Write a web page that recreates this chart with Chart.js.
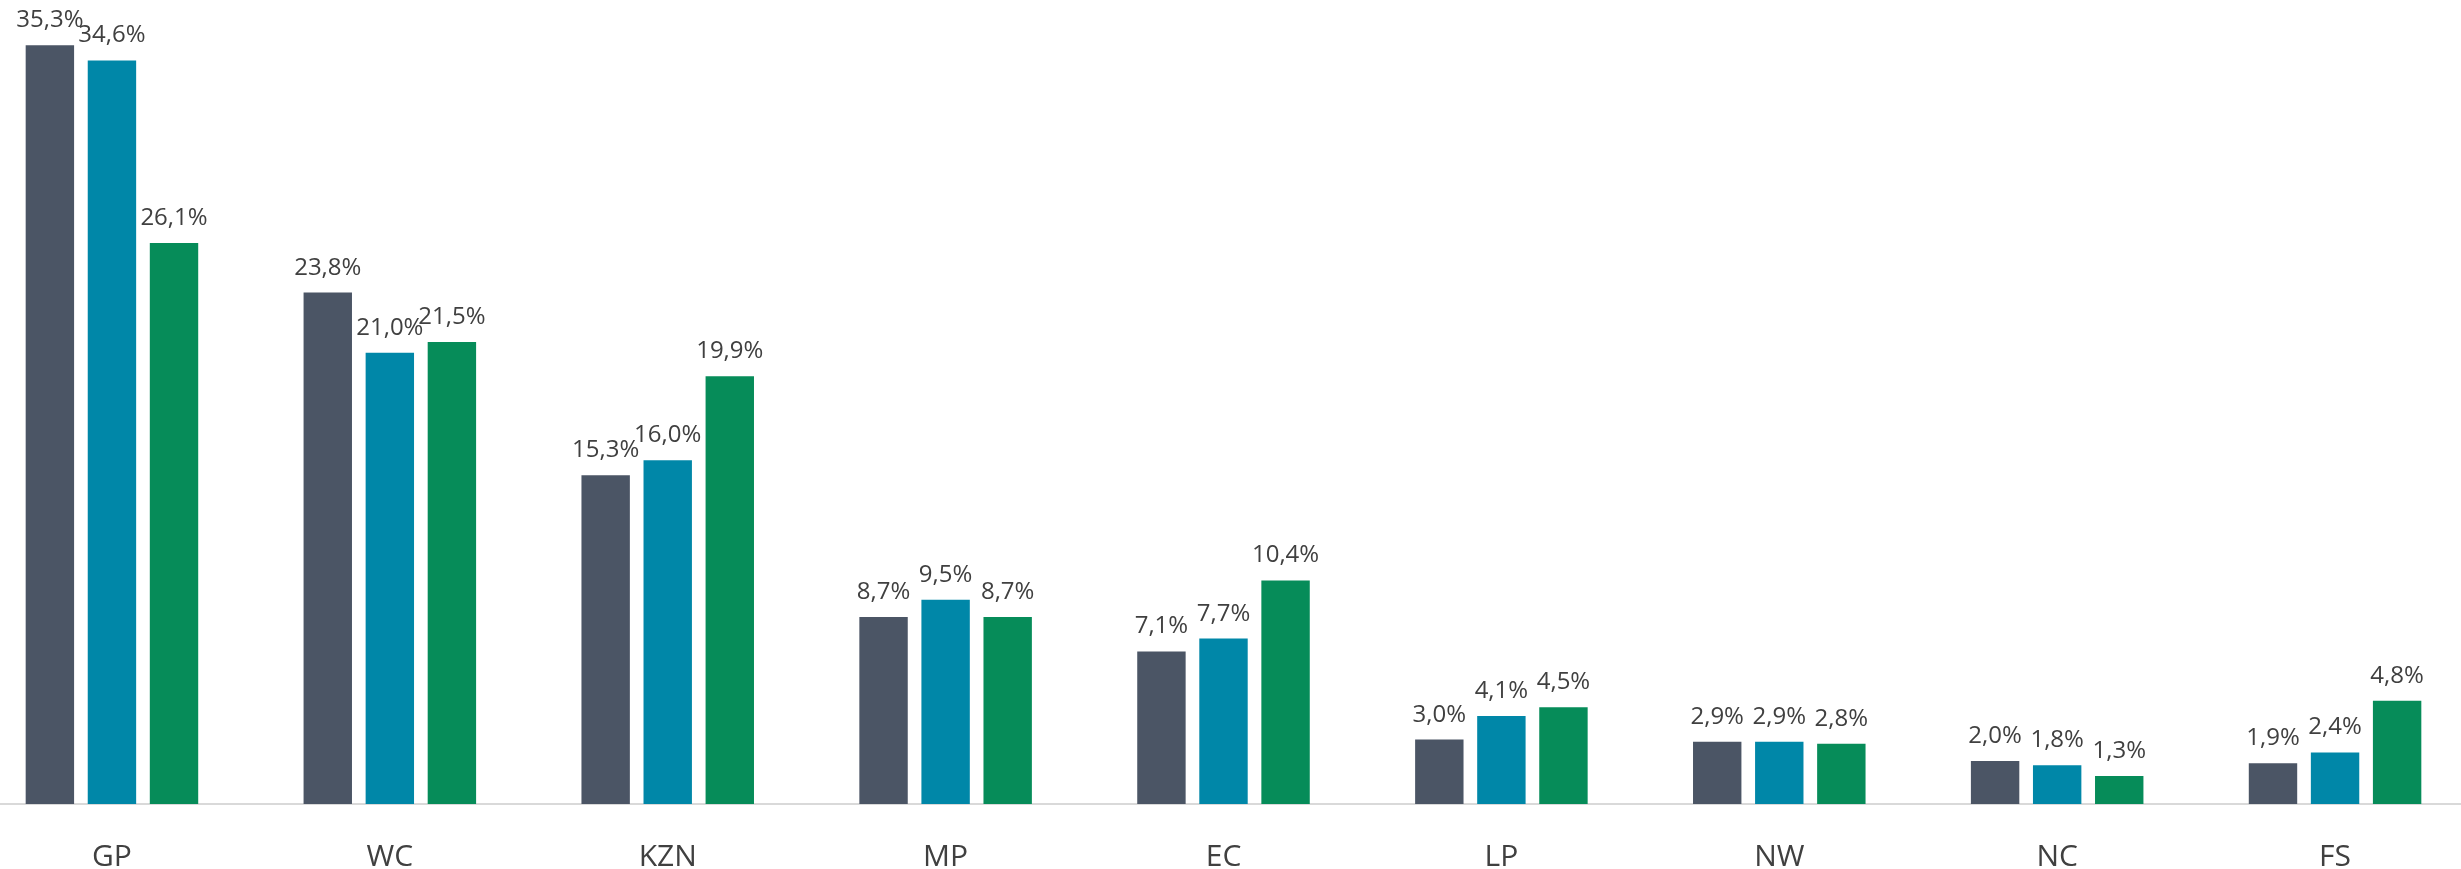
<!DOCTYPE html>
<html>
<head>
<meta charset="utf-8">
<script src="https://cdn.jsdelivr.net/npm/chart.js@4"></script>
<style>
  html, body { margin: 0; padding: 0; background: #fff; overflow: hidden; }
  #wrap { position: absolute; left: -27px; top: 0; width: 2501px; height: 869px; }
</style>
</head>
<body>
<div id="wrap"><canvas id="chart"></canvas></div>
<script>
const provinces = ['GP', 'WC', 'KZN', 'MP', 'EC', 'LP', 'NW', 'NC', 'FS'];
const seriesA = [35.3, 23.8, 15.3, 8.7, 7.1, 3.0, 2.9, 2.0, 1.9];
const seriesB = [34.6, 21.0, 16.0, 9.5, 7.7, 4.1, 2.9, 1.8, 2.4];
const seriesC = [26.1, 21.5, 19.9, 8.7, 10.4, 4.5, 2.8, 1.3, 4.8];

const colours = ['#4b5565', '#0087a8', '#068c59'];

// draws the value above each bar, with a comma as decimal mark
const valueLabels = {
    id: 'valueLabels',
    afterDatasetsDraw(chart) {
        const ctx = chart.ctx;
        ctx.save();
        ctx.font = '24px "Open Sans", sans-serif';
        ctx.fillStyle = '#404040';
        ctx.textAlign = 'center';
        ctx.textBaseline = 'alphabetic';
        chart.data.datasets.forEach((ds, i) => {
            chart.getDatasetMeta(i).data.forEach((bar, j) => {
                const txt = ds.data[j].toFixed(1).replace('.', ',') + '%';
                ctx.fillText(txt, bar.x, bar.y - 18);
            });
        });
        ctx.restore();
    }
};

new Chart(document.getElementById('chart'), {
    type: 'bar',
    data: {
        labels: provinces,
        datasets: [
            { label: 'A', data: seriesA, backgroundColor: colours[0] },
            { label: 'B', data: seriesB, backgroundColor: colours[1] },
            { label: 'C', data: seriesC, backgroundColor: colours[2] }
        ]
    },
    options: {
        responsive: true,
        maintainAspectRatio: false,
        animation: false,
        barPercentage: 0.78,
        categoryPercentage: 0.67,
        layout: { padding: 0 },
        plugins: {
            legend: { display: false },
            tooltip: { enabled: false }
        },
        scales: {
            x: {
                grid: { display: false, drawTicks: false },
                border: { display: true, color: '#d9d9d9', width: 2 },
                ticks: {
                    color: '#404040',
                    padding: 35,
                    font: { family: '"Open Sans", sans-serif', size: 30 }
                },
                afterFit(scale) { scale.height = 65; }
            },
            y: {
                display: false,
                min: 0,
                max: 37.41
            }
        }
    },
    plugins: [valueLabels]
});
</script>
</body>
</html>
